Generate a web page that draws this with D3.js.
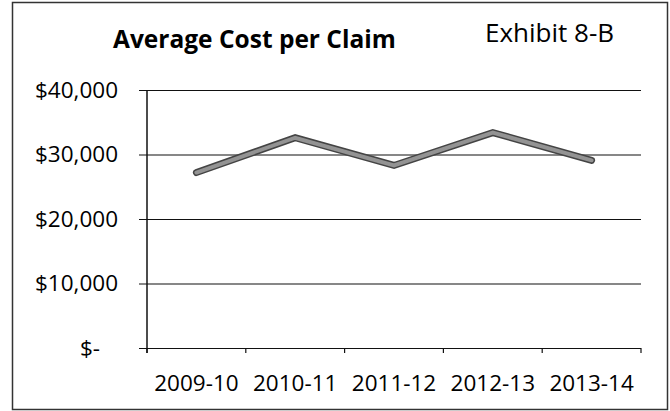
<!DOCTYPE html>
<html>
<head>
<meta charset="utf-8">
<script src="https://cdn.jsdelivr.net/npm/d3@7"></script>
<style>
    body { margin: 0; background: #fff; }
    text { font-family: "Open Sans", sans-serif; fill: #000; }
</style>
</head>
<body>
<div id="chart"></div>
<script>
const years = ['2009-10', '2010-11', '2011-12', '2012-13', '2013-14'];
const avgCost = [27200, 32600, 28300, 33400, 29100];
const yTicks = [0, 10000, 20000, 30000, 40000];

const width = 670, height = 411;

const svg = d3.select('#chart')
    .append('svg')
    .attr('width', width)
    .attr('height', height);

// outer frame
svg.append('rect')
    .attr('x', 12.5).attr('y', 2.5)
    .attr('width', 655).attr('height', 407)
    .style('fill', 'none')
    .style('stroke', '#333')
    .style('stroke-width', 1.5);

svg.append('text')
    .attr('x', 113).attr('y', 48)
    .style('font-size', '24.5px')
    .style('font-weight', 'bold')
    .text('Average Cost per Claim');

svg.append('text')
    .attr('x', 485).attr('y', 42)
    .style('font-size', '26px')
    .text('Exhibit 8-B');

const x = d3.scaleBand().domain(years).range([147, 641]);
const y = d3.scaleLinear().domain([0, 40000]).range([348, 90]);

// gridlines + y labels
const yAxis = d3.axisLeft(y)
    .tickValues(yTicks)
    .tickSize(-(641 - 139))
    .tickPadding(21)
    .tickFormat(d => d === 0 ? '$-' : '$' + d3.format(',')(d));

const gy = svg.append('g')
    .attr('transform', 'translate(139,0)')
    .call(yAxis);
gy.select('.domain').remove();
gy.selectAll('.tick line')
    .style('stroke', '#111')
    .style('stroke-width', 1.2);
gy.selectAll('.tick text')
    .style('font-size', '22.5px')
    .style('fill', '#000')
    .attr('dx', d => d === 0 ? -18 : 0);

// y axis line
svg.append('line')
    .attr('x1', 147).attr('x2', 147)
    .attr('y1', y(40000)).attr('y2', y(0) + 5)
    .style('stroke', '#111')
    .style('stroke-width', 1.5);

// x axis labels
const gx = svg.append('g')
    .attr('transform', `translate(0,${y(0)})`)
    .call(d3.axisBottom(x).tickSize(0).tickPadding(27));
gx.select('.domain').remove();
gx.selectAll('.tick text')
    .style('font-size', '22.5px')
    .style('fill', '#000');

// category boundary ticks
const bounds = years.map(d => x(d)).concat([x(years[years.length - 1]) + x.bandwidth()]);
svg.append('g')
    .selectAll('line')
    .data(bounds)
    .join('line')
    .attr('x1', d => d).attr('x2', d => d)
    .attr('y1', y(0)).attr('y2', y(0) + 5)
    .style('stroke', '#111')
    .style('stroke-width', 1.2);

// series line
const pts = years.map((d, i) => ({year: d, value: avgCost[i]}));
const line = d3.line()
    .x(d => x(d.year) + x.bandwidth() / 2)
    .y(d => y(d.value));

svg.append('path')
    .datum(pts)
    .attr('d', line)
    .style('fill', 'none')
    .style('stroke', '#444')
    .style('stroke-width', 7)
    .style('stroke-linecap', 'round');
svg.append('path')
    .datum(pts)
    .attr('d', line)
    .style('fill', 'none')
    .style('stroke', '#939393')
    .style('stroke-width', 4)
    .style('stroke-linecap', 'round');
</script>
</body>
</html>
